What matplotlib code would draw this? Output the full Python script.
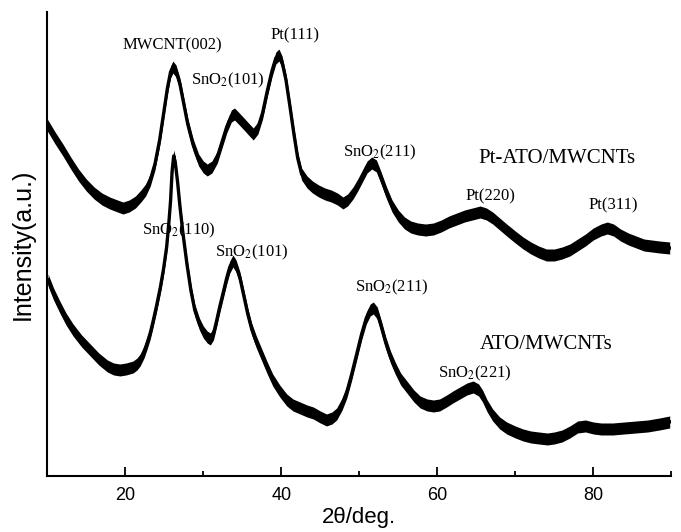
import matplotlib
matplotlib.use("Agg")
import matplotlib.pyplot as plt
from matplotlib.ticker import MultipleLocator

plt.rcParams['mathtext.fontset'] = 'stix'

# Pt-ATO/MWCNTs trace (2theta, intensity a.u.)
pt_x = [10.0, 11.0, 12.0, 13.0, 14.0, 15.0, 16.0, 17.0, 18.0, 19.0, 19.7, 20.5, 21.3,
        22.0, 22.6, 23.2, 23.8, 24.4, 24.9, 25.4, 25.8, 26.1, 26.5, 27.0, 27.5, 28.0,
        28.7, 29.4, 30.0, 30.5, 31.1, 31.8, 32.4, 33.0, 33.6, 34.0, 34.5, 35.1, 35.8,
        36.4, 37.0, 37.6, 38.2, 38.8, 39.3, 39.7, 40.1, 40.6, 41.1, 41.6, 42.1, 42.6,
        43.3, 44.0, 44.8, 45.6, 46.4, 47.2, 47.9, 48.5, 49.2, 49.8, 50.4, 51.0, 51.6,
        52.2, 52.8, 53.5, 54.2, 55.0, 55.8, 56.6, 57.5, 58.5, 59.5, 60.5, 61.5, 62.5,
        63.5, 64.5, 65.5, 66.3, 67.1, 68.0, 68.9, 70.0, 71.0, 72.0, 73.0, 74.0, 75.0,
        76.0, 77.0, 78.0, 79.0, 80.0, 81.0, 81.8, 82.6, 83.5, 84.5, 85.5, 86.5, 87.5,
        88.5, 89.8]
pt_y = [351, 338, 326, 313, 301, 291, 283, 277, 273, 270, 268, 270, 274,
        280, 286, 296, 312, 336, 362, 388, 404, 409, 405, 392, 372, 352,
        331, 316, 309, 306, 309, 319, 334, 349, 360, 362, 358, 353, 347,
        342, 348, 363, 385, 405, 418, 421, 414, 396, 370, 343, 318, 302,
        294, 289, 285, 282, 280, 277, 273, 276, 283, 291, 300, 309, 313,
        310, 298, 283, 270, 260, 253, 249, 247, 246, 247, 250, 254, 257,
        260, 262, 264, 262, 258, 252, 246, 239, 233, 228, 224, 221, 221,
        223, 226, 231, 236, 242, 246, 248, 246, 241, 237, 234, 231, 230,
        229, 228]

# ATO/MWCNTs trace
ato_x = [10.1, 10.8, 11.6, 12.4, 13.3, 14.4, 15.5, 16.6, 17.7, 18.5, 19.3, 20.1, 21.0,
         21.5, 21.9, 22.4, 22.8, 23.2, 23.6, 24.0, 24.5, 24.9, 25.3, 25.6, 25.8, 26.0,
         26.2, 26.4, 26.7, 27.0, 27.4, 27.9, 28.4, 28.9, 29.5, 30.0, 30.5, 30.9, 31.3,
         31.7, 32.1, 32.6, 33.0, 33.4, 33.8, 34.2, 34.7, 35.2, 35.7, 36.2, 36.8, 37.5,
         38.2, 38.9, 39.8, 40.7, 41.5, 42.4, 43.3, 44.1, 45.0, 45.8, 46.5, 47.1, 47.8,
         48.4, 49.0, 49.7, 50.3, 50.9, 51.4, 51.8, 52.3, 52.8, 53.4, 54.0, 54.6, 55.3,
         56.1, 57.0, 57.8, 58.7, 59.5, 60.3, 61.2, 62.0, 62.9, 63.8, 64.6, 65.3, 65.8,
         66.4, 67.1, 68.0, 68.9, 70.0, 71.0, 72.0, 73.0, 74.1, 75.0, 76.0, 77.0, 78.0,
         79.0, 80.0, 81.0, 82.5, 84.0, 85.5, 87.0, 88.5, 89.8]
ato_y = [196, 182, 169, 157, 146, 135, 126, 117, 110, 107, 106, 107, 109,
         112, 116, 124, 133, 143, 156, 170, 189, 207, 229, 255, 275, 305,
         320, 314, 294, 270, 242, 212, 186, 166, 152, 144, 139, 137, 142,
         155, 169, 185, 198, 209, 215, 210, 198, 180, 162, 147, 134, 121,
         108, 96, 85, 76, 71, 68, 65, 63, 59, 56, 58, 62, 72,
         84, 101, 123, 142, 158, 166, 168, 163, 150, 133, 119, 108, 97,
         89, 80, 74, 71, 70, 71, 75, 79, 83, 87, 89, 86, 80,
         70, 61, 53, 48, 44, 41, 39, 38, 37, 38, 40, 44, 49,
         50, 48, 47, 47, 48, 49, 50, 52, 54]

xticks = [20, 40, 60, 80]

peak_labels = [
    ("MWCNT(002)", 26.0, 431),
    ("Pt(111)", 41.7, 441),
    ("SnO$_2$(101)", 33.1, 396),
    ("SnO$_2$(211)", 52.6, 324),
    ("Pt(220)", 66.8, 280),
    ("Pt(311)", 82.5, 271),
    ("SnO$_2$(110)", 26.9, 246),
    ("SnO$_2$(101)", 36.2, 224),
    ("SnO$_2$(211)", 54.2, 189),
    ("SnO$_2$(221)", 64.8, 103),
]
sample_labels = [("Pt-ATO/MWCNTs", 75.4, 318), ("ATO/MWCNTs", 74.0, 131)]

fig = plt.figure(figsize=(6.81, 5.32), dpi=100)
ax = fig.add_axes([0.0695, 0.1053, 0.9162, 0.8721])

for xs, ys in [(pt_x, pt_y), (ato_x, ato_y)]:
    lo = [v - 6 for v in ys]
    hi = [v + 6 for v in ys]
    ax.fill_between(xs, lo, hi, color='black', linewidth=0, zorder=3)
    ax.plot(xs, ys, color='black', lw=2.4, zorder=3)

serif = ['Liberation Serif', 'DejaVu Serif']
for txt, x, y in peak_labels:
    ax.text(x, y, txt, ha='center', va='center', fontsize=12, family=serif, zorder=2)
for txt, x, y in sample_labels:
    ax.text(x, y, txt, ha='center', va='center', fontsize=15, family=serif, zorder=2)

ax.set_xlim(10, 90)
ax.set_ylim(0, 464)
ax.set_xticks(xticks)
ax.xaxis.set_minor_locator(MultipleLocator(10))
ax.set_yticks([])
ax.tick_params(axis='x', which='major', direction='in', length=6.5, width=1.3,
               labelsize=13, pad=8)
ax.tick_params(axis='x', which='minor', direction='in', length=3.5, width=1.3)
for lab in ax.get_xticklabels():
    lab.set_family(['Liberation Sans', 'DejaVu Sans'])
ax.spines['top'].set_visible(False)
ax.spines['right'].set_visible(False)
ax.spines['left'].set_linewidth(1.5)
ax.spines['bottom'].set_linewidth(1.5)

ax.set_xlabel('2θ/deg.', fontsize=16, family=['Liberation Sans', 'DejaVu Sans'], labelpad=2)
ax.set_ylabel('Intensity(a.u.)', fontsize=18, family=['Liberation Sans', 'DejaVu Sans'], labelpad=9)

fig.savefig('out.png', dpi=100)
